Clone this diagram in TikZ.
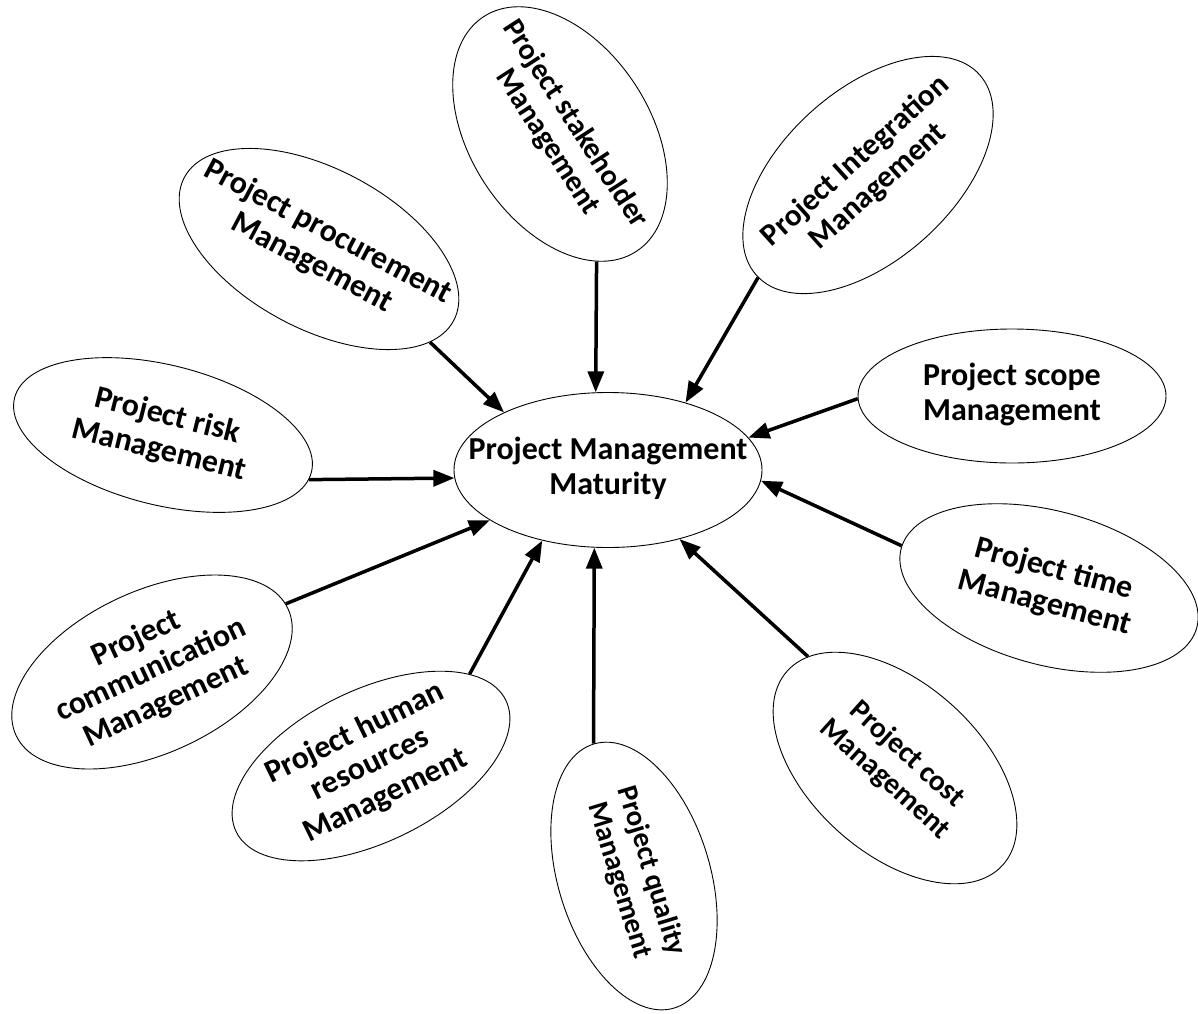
\documentclass[tikz,border=0pt]{standalone}
\usepackage{fontspec}
\setmainfont{Carlito}
\usetikzlibrary{shapes.geometric,arrows.meta}
\newcommand{\bubtext}[1]{\makebox[0pt]{\begin{tabular}{@{}c@{}}#1\end{tabular}}}
\begin{document}
\begin{tikzpicture}[x=1pt,y=-1pt,
  bub/.style={draw=black,line width=0.9pt,ellipse,inner sep=0pt,
    font=\fontsize{32}{35}\selectfont\bfseries},
  fsz/.style={font=\fontsize{#1}{#1*1.1}\selectfont\bfseries},
  arr/.style={line width=3.5pt,-{Triangle[length=21pt,width=16pt]}}]
\useasboundingbox (0,0) rectangle (1198,1013);
\node[bub,minimum width=308pt,minimum height=155pt] (pm) at (608,470) {\bubtext{Project Management\\Maturity}};
\node[bub,font=\fontsize{30}{33}\selectfont\bfseries,rotate=-57,minimum width=280pt,minimum height=180pt] (stake) at (560,134) {\bubtext{Project stakeholder\\Management}};
\node[bub,font=\fontsize{31}{34}\selectfont\bfseries,rotate=42,minimum width=300pt,minimum height=170pt] (integ) at (868,175) {\bubtext{Project Integration\\Management}};
\node[bub,rotate=-28,minimum width=305pt,minimum height=160pt] (proc) at (319,249) {\bubtext{Project procurement\\Management}};
\node[bub,rotate=-14,minimum width=306pt,minimum height=140pt] (risk) at (163,435) {\bubtext{Project risk\\Management}};
\node[bub,minimum width=308pt,minimum height=134pt] (scope) at (1012,396) {\bubtext{Project scope\\Management}};
\node[bub,rotate=-15,minimum width=306pt,minimum height=154pt] (time) at (1049,588) {\bubtext{Project time\\Management}};
\node[bub,font=\fontsize{29.5}{33}\selectfont\bfseries,rotate=-42,minimum width=290pt,minimum height=170pt] (cost) at (895,768) {\bubtext{Project cost\\Management}};
\node[bub,font=\fontsize{29}{33}\selectfont\bfseries,rotate=-73,minimum width=276pt,minimum height=152pt] (qual) at (634,876) {\bubtext{Project quality\\Management}};
\node[bub,rotate=26,minimum width=300pt,minimum height=152pt] (human) at (371,766) {\bubtext{Project human\\resources\\Management}};
\node[bub,rotate=25,minimum width=300pt,minimum height=162pt] (comm) at (152,672) {\bubtext{Project\\communication\\Management}};
\draw[arr] (stake.-17.5) -- (pm.99.5);
\draw[arr] (integ.181.3) -- (pm.41.9);
\draw[arr] (proc.-12.9) -- (pm.151.1);
\draw[arr] (risk.-3.2) -- (pm.183.3);
\draw[arr] (scope.181.9) -- (pm.13.3);
\draw[arr] (time.179.3) -- (pm.-4.4);
\draw[arr] (cost.170.9) -- (pm.-44.6);
\draw[arr] (qual.180.6) -- (pm.260.3);
\draw[arr] (human.17.5) -- (pm.227.7);
\draw[arr] (comm.2.4) -- (pm.203.7);
\end{tikzpicture}
\end{document}
